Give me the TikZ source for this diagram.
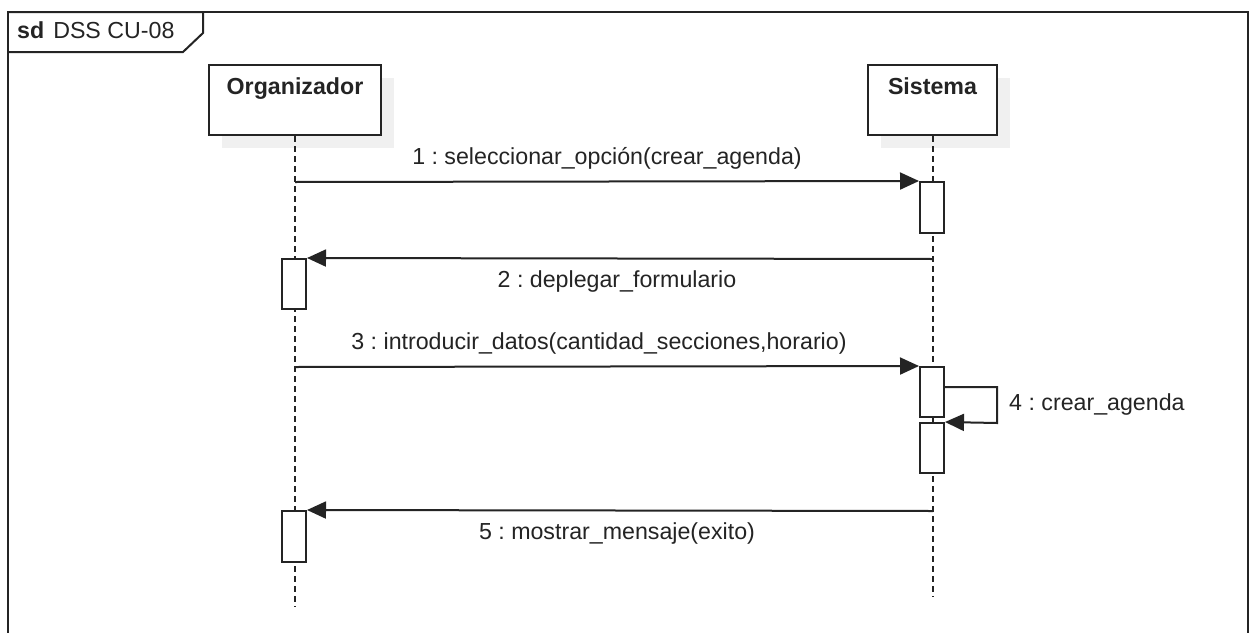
\documentclass[tikz,border=0pt]{standalone}
\usepackage{fontspec}
\setmainfont{Liberation Sans}
\usetikzlibrary{arrows.meta,shadows}
\definecolor{ink}{RGB}{36,36,36}
\definecolor{shade}{RGB}{240,240,240}
\tikzset{
  umlfont/.style={font=\fontsize{23.2}{28}\selectfont\frenchspacing, text=ink},
  framebox/.style={draw=ink, line width=2pt},
  actorbox/.style={draw=ink, line width=2pt, fill=white, minimum width=172pt, minimum height=70pt, inner sep=0pt,
    drop shadow={shadow xshift=13pt, shadow yshift=-13pt, fill=shade, opacity=1}},
  actorname/.style={umlfont, font=\fontsize{23.2}{28}\selectfont\bfseries, anchor=base},
  lifeline/.style={draw=ink, line width=1.6pt, dash pattern=on 6pt off 4pt},
  activation/.style={draw=ink, line width=2pt, fill=white, minimum width=24pt, inner sep=0pt},
  msg/.style={draw=ink, line width=2pt, -{Triangle[length=19pt,width=17pt]}},
  msglabel/.style={umlfont, inner sep=0pt},
}
\begin{document}
\begin{tikzpicture}[x=1pt, y=-1pt]
\clip (0,0) rectangle (1250,632);
\fill[white] (0,0) rectangle (1250,632);

% frame of the interaction
\draw[framebox] (8,12) rectangle (1248,660);
\node[coordinate] (tabA) at (8,52) {};
\draw[framebox] (8,12) -- (203,12) -- (203,33) -- (183,52) -- (tabA);
\node[umlfont, anchor=base west, inner sep=0pt] (title) at (17,38) {\textbf{sd}\hspace{9pt}DSS CU-08};

% participants
\node[actorbox] (org) at (295,100) {};
\node[actorname] (orgname) at ([yshift=-30pt]org.north) {Organizador};
\node[actorbox, minimum width=129pt] (sis) at (932.5,100) {};
\node[actorname] (sisname) at ([yshift=-30pt]sis.north) {Sistema};

% lifelines
\coordinate (orgend) at (295,607);
\coordinate (sisend) at (933,597);
\draw[lifeline] (org.south) -- (orgend);
\draw[lifeline] ([xshift=0.5pt]sis.south) -- (sisend);

% execution specifications
\node[activation, minimum height=51pt] (s1) at (932,207.5) {};
\node[activation, minimum height=50pt] (o1) at (294,284) {};
\node[activation, minimum height=50pt] (s2) at (932,392) {};
\node[activation, minimum height=50pt] (s3) at (932,448) {};
\node[activation, minimum height=51pt] (o2) at (294,536.5) {};

% message anchors on the lifelines
\coordinate (m1) at (295,182);
\coordinate (m2) at (933,259);
\coordinate (m3) at (295,367);
\coordinate (m5) at (933,511);
\coordinate (selfA) at (997,387);
\coordinate (selfB) at (997,423);

% messages
\draw[msg] (m1) -- node[msglabel, above=11pt, xshift=0pt] {1 : seleccionar\_opción(crear\_agenda)} (s1.north west);
\draw[msg] (m2) -- node[msglabel, below=11pt, xshift=-3pt] {2 : deplegar\_formulario} (o1.north east);
\draw[msg] (m3) -- node[msglabel, above=11pt, xshift=-8pt] {3 : introducir\_datos(cantidad\_secciones,horario)} (s2.north west);
\draw[msg] (s2.east |- selfA) -- (selfA) -- (selfB) -- (s3.north east);
\node[msglabel, anchor=base west] (l4) at (1009,410) {4 : crear\_agenda};
\draw[msg] (m5) -- node[msglabel, below=11pt, xshift=-3pt] {5 : mostrar\_mensaje(exito)} (o2.north east);
\end{tikzpicture}
\end{document}
